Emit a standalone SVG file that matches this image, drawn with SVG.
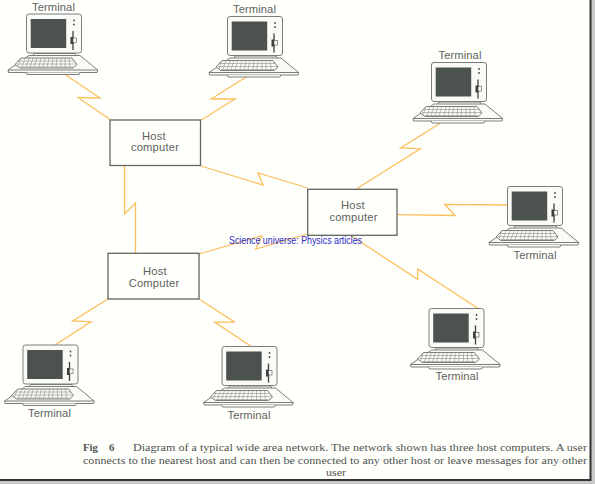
<svg xmlns="http://www.w3.org/2000/svg" width="595" height="484" viewBox="0 0 595 484">
<style>
.lbl{font-family:"Liberation Sans",Arial,sans-serif;font-size:11.2px;fill:#5c6260;text-anchor:middle;letter-spacing:.1px}
.host{font-family:"Liberation Sans",Arial,sans-serif;font-size:11.2px;fill:#5c6260;text-anchor:middle;letter-spacing:.2px}
.box{fill:#fffffb;stroke:#5f6663;stroke-width:1.3}
.bolt{fill:none;stroke:#fbbf5e;stroke-width:1.3;stroke-linejoin:miter}
.cap{font-family:"Liberation Serif","Times New Roman",serif;font-size:10.8px;fill:#4f5451}
.m{fill:#fbfbf6;stroke:#6b716e;stroke-width:.9}
.k{fill:none;stroke:#8a908d;stroke-width:.6}
</style>
<defs>
<g id="term">
<path class="m" d="M8 39.500L6 43H51L49 39.500Z"/>
<path class="m" d="M3 41.500H54L71.700 56L71 58.500H-17.500L-18 56Z"/>
<path class="m" d="M-18 56H71.700"/>
<path class="m" d="M0 58.500L1 60.500H53L54 58.500"/>
<rect class="m" x=".5" y="0" width="55" height="39" rx="2.500"/>
<rect x="4.700" y="5" width="35.500" height="29" fill="#4c5250"/>
<circle cx="48" cy="6.500" r=".9" fill="#454a48"/><circle cx="48" cy="10.500" r=".9" fill="#454a48"/>
<path d="M47 17V36" stroke="#3a3f3d" stroke-width="1.300"/>
<rect x="44.500" y="23" width="3" height="7" fill="#3a3f3d"/>
<rect x="47" y="24" width="3.500" height="4.500" fill="#fff" stroke="#4a4f4d" stroke-width=".6"/>
<path class="m" d="M-5 44H46L51 50.500L47 54H-6L-11 50.500Z"/>
<path class="k" d="M-8 47H48M-9 50H50M-6 53H47M-5 44L-8 52M-1 44L-4 53M3 44L0 53M7 44L4 53M11 44L8 53M15 44L13 53M19 44L17 53M23 44L21 53M27 44L26 53M31 44L30 53M35 44L35 53M39 44L39 53M43 44L44 53"/>
</g>
</defs>
<rect width="595" height="484" fill="#fffffb"/>
<path d="M591 0H595V484H0V480H591Z" fill="#c9c9c9"/>
<path d="M590.500 0V480H0" fill="none" stroke="#333" stroke-width="2"/>
<g id="connectors">
<path class="bolt" d="M65 74.500L100 98L78 97.500L110 119.500"/>
<path class="bolt" d="M247 76.500L211 99L235 99L200.500 120.500"/>
<path class="bolt" d="M124.500 165.500V214L135.500 203V253"/>
<path class="bolt" d="M201 166L263 185L258 173L308 188"/>
<path class="bolt" d="M441.700 122.300L400.700 148L420.300 148.700L356.700 188.700"/>
<path class="bolt" d="M397 214.700L455 215.500L444.700 204.300L507.500 205"/>
<path class="bolt" d="M199 254L261.700 235.700L255.700 249L307.300 234"/>
<path class="bolt" d="M350 235L417.700 279.300V269L477.700 308.300"/>
<path class="bolt" d="M108.300 298.700L72.700 321L91 321.700L55 345"/>
<path class="bolt" d="M199 299L234.300 322L215 322.300L251.700 346.700"/>
</g>
<g id="host1"><rect class="box" x="110" y="120" width="90.500" height="45.500"/><text class="host" x="154" y="140">Host</text><text class="host" x="155" y="151">computer</text></g>
<g id="host2"><rect class="box" x="307.700" y="189.300" width="89.300" height="46"/><text class="host" x="353" y="209">Host</text><text class="host" x="353.500" y="221">computer</text></g>
<g id="host3"><rect class="box" x="108" y="253.300" width="91" height="45.700"/><text class="host" x="155" y="275">Host</text><text class="host" x="154" y="287">Computer</text></g>
<g id="terminal1"><use href="#term" x="26" y="14"/><text class="lbl" x="53.500" y="10.500">Terminal</text></g>
<g id="terminal2"><use href="#term" x="227" y="16.500"/><text class="lbl" x="254.500" y="12.500">Terminal</text></g>
<g id="terminal3"><use href="#term" x="431" y="62.500"/><text class="lbl" x="460" y="59">Terminal</text></g>
<g id="terminal4"><use href="#term" x="507" y="186.500"/><text class="lbl" x="535" y="259">Terminal</text></g>
<g id="terminal5"><use href="#term" x="428.500" y="308.500"/><text class="lbl" x="457" y="380">Terminal</text></g>
<g id="terminal6"><use href="#term" x="22.500" y="345"/><text class="lbl" x="49.500" y="417">Terminal</text></g>
<g id="terminal7"><use href="#term" x="221.500" y="346.500"/><text class="lbl" x="249" y="419">Terminal</text></g>
<text x="229" y="243.500" font-family="'Liberation Sans',Arial,sans-serif" font-size="10" fill="#2a2ac8" textLength="133" lengthAdjust="spacingAndGlyphs">Science universe: Physics articles</text>
<g id="caption">
<text class="cap" x="83" y="451" font-weight="bold">Fig</text>
<text class="cap" x="109" y="451" font-weight="bold">6</text>
<text class="cap" x="133" y="451" textLength="454" lengthAdjust="spacingAndGlyphs">Diagram of a typical wide area network. The network shown has three host computers. A user</text>
<text class="cap" x="83" y="463.500" textLength="504" lengthAdjust="spacingAndGlyphs">connects to the nearest host and can then be connected to any other host or leave messages for any other</text>
<text class="cap" x="326" y="476" textLength="20" lengthAdjust="spacingAndGlyphs">user</text>
</g>
</svg>
